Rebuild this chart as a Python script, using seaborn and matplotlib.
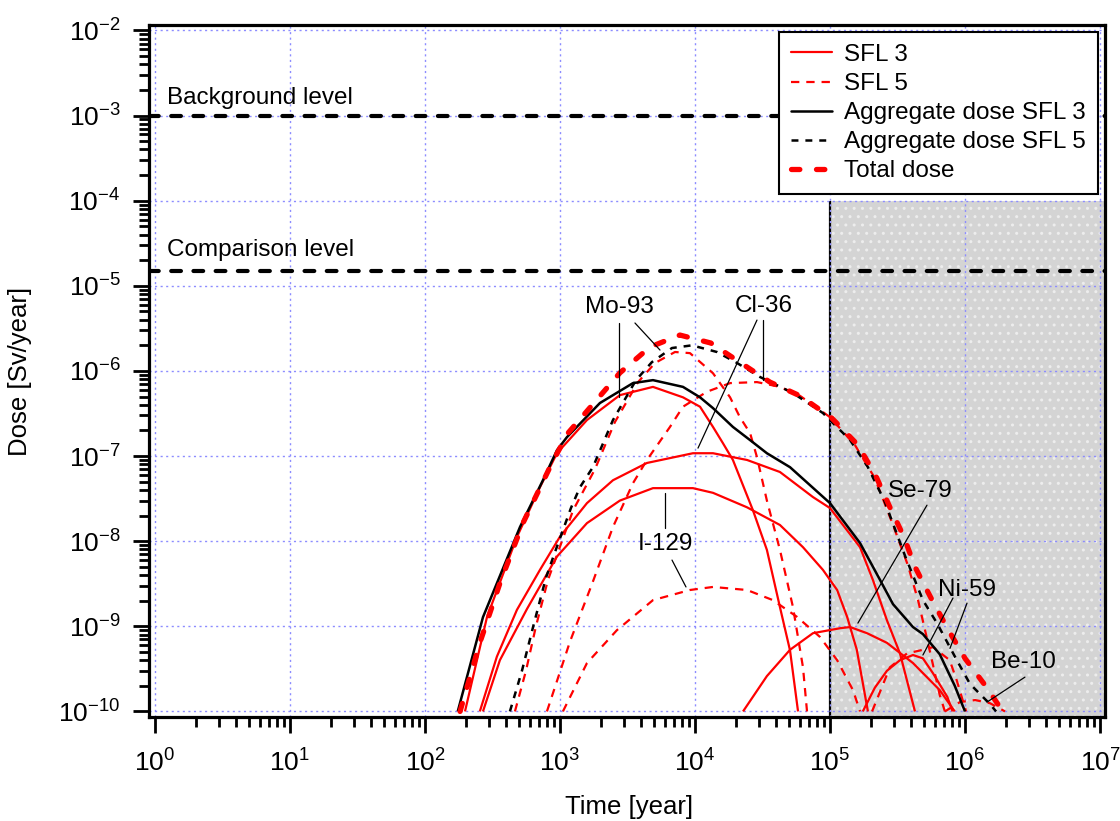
import matplotlib
matplotlib.use("Agg")
import numpy as np
import pandas as pd
import matplotlib.pyplot as plt
import seaborn as sns
from matplotlib.lines import Line2D
from matplotlib.patches import Rectangle
from matplotlib.ticker import FixedLocator, LogFormatterSciNotation, NullFormatter

# ---------------- data ----------------
# Aggregate dose SFL 3 (black solid)
agg3_t = [175, 269, 506, 748, 950, 1127, 1977, 3474, 4886, 8150, 10900, 13600, 19100,
          25600, 34100, 50600, 1.0e5, 1.67e5, 2.35e5, 2.93e5, 4.12e5, 4.88e5, 6.5e5, 8.4e5, 1.0e6]
agg3_d = [1e-10, 1.28e-9, 1.47e-8, 5.2e-8, 1.17e-7, 1.67e-7, 4.2e-7, 7.2e-7, 7.8e-7, 6.5e-7,
          4.9e-7, 3.66e-7, 2.2e-7, 1.54e-7, 1.08e-7, 7.4e-8, 2.8e-8, 9.5e-9, 3.5e-9, 1.82e-9,
          9.8e-10, 8.1e-10, 4.7e-10, 2.0e-10, 1e-10]

# Aggregate dose SFL 5 (black dashed)
agg5_t = [426, 523, 642, 787, 903, 1206, 1406, 1754, 2470, 3657, 4800, 6760, 9500, 14550,
          20500, 30300, 53200, 88700, 1.41e5, 1.91e5, 2.55e5, 3.6e5, 4.88e5, 6.2e5, 8.7e5,
          1.09e6, 1.53e6, 1.7e6]
agg5_d = [1e-10, 3.0e-10, 1.08e-9, 3.7e-9, 6.9e-9, 2.45e-8, 4.3e-8, 7.4e-8, 2.65e-7, 7.8e-7,
          1.27e-6, 1.86e-6, 2.0e-6, 1.67e-6, 1.24e-6, 8.5e-7, 5.5e-7, 3.2e-7, 1.54e-7, 7.4e-8,
          2.9e-8, 6.7e-9, 2.03e-9, 1.09e-9, 4.0e-10, 2.1e-10, 1.22e-10, 1e-10]

# Total dose (thick red dashed)
total_t = [182, 255, 359, 532, 873, 1146, 1786, 2780, 4640, 7740, 13100, 21900, 35900, 60000,
           1.03e5, 1.61e5, 2.19e5, 2.78e5, 3.53e5, 4.26e5, 5.6e5, 7.4e5, 1.0e6, 1.46e6, 1.9e6]
total_d = [1e-10, 6.4e-10, 3.2e-9, 1.63e-8, 8.3e-8, 1.86e-7, 4.2e-7, 9.5e-7, 1.91e-6, 2.64e-6,
           2.13e-6, 1.24e-6, 7.4e-7, 5.1e-7, 2.8e-7, 1.35e-7, 5.8e-8, 2.5e-8, 1.12e-8, 5.0e-9,
           2.15e-9, 9.5e-10, 4.2e-10, 1.88e-10, 1e-10]

# Nuclides, SFL 3 (red solid)
mo93_s3_t = [198, 288, 480, 711, 950, 1585, 2780, 4886, 8150, 10900, 13600, 16100, 19100,
             26900, 34100, 42600, 50600, 58000]
mo93_s3_d = [1e-10, 1.28e-9, 1.12e-8, 4.3e-8, 1.08e-7, 2.65e-7, 5.2e-7, 6.5e-7, 4.9e-7, 3.8e-7,
             2.2e-7, 1.42e-7, 9.0e-8, 2.3e-8, 7.9e-9, 1.68e-9, 5.2e-10, 1e-10]
cl36_s3_t = [255, 341, 480, 711, 1000, 1585, 2470, 4410, 9660, 13600, 24300, 42600, 74800,
             1.0e5, 1.67e5, 2.08e5, 2.64e5, 3.3e5, 4.26e5]
cl36_s3_d = [1e-10, 4.4e-10, 1.56e-9, 4.6e-9, 1.13e-8, 2.8e-8, 5.2e-8, 8.3e-8, 1.08e-7, 1.08e-7,
             9.0e-8, 6.5e-8, 3.3e-8, 2.45e-8, 8.5e-9, 3.5e-9, 1.18e-9, 4.8e-10, 1e-10]
i129_s3_t = [269, 359, 570, 950, 1585, 2780, 4886, 9660, 13600, 24300, 42600, 63100, 88700,
             1.13e5, 1.34e5, 1.58e5, 1.91e5]
i129_s3_d = [1e-10, 4.0e-10, 1.6e-9, 6.6e-9, 1.63e-8, 3.0e-8, 4.2e-8, 4.2e-8, 3.7e-8, 2.5e-8,
             1.55e-8, 8.5e-9, 4.6e-9, 2.67e-9, 1.29e-9, 5.3e-10, 1e-10]
se79_s3_t = [22700, 34100, 50600, 74800, 1.19e5, 1.41e5, 1.88e5, 2.64e5, 4.12e5, 6.5e5, 8.4e5]
se79_s3_d = [1e-10, 2.6e-10, 5.3e-10, 8.3e-10, 9.5e-10, 9.8e-10, 8.3e-10, 6.4e-10, 3.7e-10,
             1.78e-10, 1e-10]
ni59_s3_t = [1.75e5, 2.15e5, 2.64e5, 3.3e5, 4.12e5, 4.88e5, 5.8e5, 7.4e5, 8.1e5]
ni59_s3_d = [1e-10, 1.9e-10, 3.0e-10, 4.0e-10, 4.6e-10, 4.2e-10, 2.8e-10, 1.48e-10, 1e-10]

# Nuclides, SFL 5 (red dashed)
mo93_s5_t = [464, 560, 664, 815, 1250, 1816, 2550, 3790, 5060, 7110, 9180, 13600, 18200,
             21500, 25600, 28800, 34100, 42600, 53200, 63100, 67600]
mo93_s5_d = [1e-10, 3.0e-10, 1.0e-9, 3.5e-9, 2.3e-8, 7.0e-8, 2.5e-7, 7.4e-7, 1.24e-6, 1.67e-6,
             1.62e-6, 9.4e-7, 4.9e-7, 2.87e-7, 1.86e-7, 9.7e-8, 3.0e-8, 7.9e-9, 1.68e-9,
             3.3e-10, 1e-10]
cl36_s5_t = [801, 1186, 1754, 2470, 3474, 4410, 6530, 8150, 12270, 18200, 28800, 42600, 60000,
             1.0e5, 1.53e5, 2.15e5, 2.93e5, 3.78e5, 4.49e5, 5.06e5, 5.8e5, 6.5e5, 7.1e5]
cl36_s5_d = [1e-10, 6.6e-10, 3.35e-9, 1.47e-8, 4.8e-8, 9.0e-8, 2.2e-7, 3.8e-7, 5.7e-7, 7.2e-7,
             7.4e-7, 6.5e-7, 5.1e-7, 2.87e-7, 1.35e-7, 5.5e-8, 1.55e-8, 5.2e-9, 2.03e-9,
             9.0e-10, 3.5e-10, 1.56e-10, 1e-10]
i129_s5_t = [1052, 1585, 2640, 4886, 9180, 13600, 24300, 37800, 57000, 84300, 1.13e5, 1.48e5,
             1.67e5]
i129_s5_d = [1e-10, 3.7e-10, 9.0e-10, 2.03e-9, 2.67e-9, 2.9e-9, 2.67e-9, 2.03e-9, 1.29e-9,
             7.5e-10, 4.0e-10, 1.78e-10, 1e-10]
ni59_s5_t = [2.05e5, 2.78e5, 3.72e5, 4.64e5, 5.8e5, 7.7e5, 8.7e5, 9.7e5, 1.02e6]
ni59_s5_d = [1e-10, 3.3e-10, 4.8e-10, 5.2e-10, 5.7e-10, 4.0e-10, 2.3e-10, 1.29e-10, 1e-10]
be10_s5_t = [7.1e5, 9.2e5, 1.19e6, 1.53e6, 1.98e6]
be10_s5_d = [1e-10, 1.29e-10, 1.36e-10, 1.25e-10, 1e-10]

# Reference levels and regulatory period
background_level = 1e-3
comparison_level = 1.5e-5
shade_x = [1e5, 1.089e7]
shade_top = 1e-4

x_ticks = [1e0, 1e1, 1e2, 1e3, 1e4, 1e5, 1e6, 1e7]
y_ticks = [1e-10, 1e-9, 1e-8, 1e-7, 1e-6, 1e-5, 1e-4, 1e-3, 1e-2]

legend_labels = ["SFL 3", "SFL 5", "Aggregate dose SFL 3", "Aggregate dose SFL 5", "Total dose"]

# ---------------- style ----------------
sns.set_style("white")
plt.rcParams['font.family'] = ['Liberation Sans', 'DejaVu Sans']
plt.rcParams['mathtext.default'] = 'regular'
plt.rcParams['axes.unicode_minus'] = False
plt.rcParams['lines.scale_dashes'] = False
plt.rcParams['text.color'] = 'black'
plt.rcParams['axes.labelcolor'] = 'black'
plt.rcParams['xtick.color'] = 'black'
plt.rcParams['ytick.color'] = 'black'

RED = '#ff0000'
XLIM = (0.904, 1.089e7)
YLIM = (8.6e-11, 1.16e-2)
FS = 17.5

fig = plt.figure(figsize=(11.2, 8.21), dpi=100)
ax = fig.add_axes([149 / 1120, 1 - 717 / 821, (1105 - 149) / 1120, (717 - 25) / 821])
ax.set_xscale('log')
ax.set_yscale('log')
ax.set_xlim(*XLIM)
ax.set_ylim(*YLIM)

# shaded region
ax.add_patch(Rectangle((shade_x[0], YLIM[0]), shade_x[1] - shade_x[0], shade_top - YLIM[0],
                       facecolor='#d4d4d4', edgecolor='#ededed', hatch='..', linewidth=0,
                       zorder=0.2))
ax.vlines(shade_x[0], YLIM[0], shade_top, color='black', linewidth=1.6, zorder=0.3)

ax.set_axisbelow(True)


def draw(t, d, color, lw, dashes=None, cap='butt', z=2):
    df = pd.DataFrame({'t': t, 'd': d})
    sns.lineplot(data=df, x='t', y='d', ax=ax, color=color, linewidth=lw,
                 estimator=None, sort=False, zorder=z)
    ln = ax.get_lines()[-1]
    if dashes is not None:
        ln.set_dashes(dashes)
    ln.set_dash_capstyle(cap)
    ln.set_solid_capstyle('butt')
    ln.set_solid_joinstyle('round')
    return ln


# reference levels
for lvl in (background_level, comparison_level):
    draw([XLIM[0], XLIM[1]], [lvl, lvl], 'black', 3.0, dashes=(7, 9), cap='round', z=2.5)

# SFL 3 nuclides
for t, d in [(mo93_s3_t, mo93_s3_d), (cl36_s3_t, cl36_s3_d), (i129_s3_t, i129_s3_d),
             (se79_s3_t, se79_s3_d), (ni59_s3_t, ni59_s3_d)]:
    draw(t, d, RED, 1.6)
# SFL 5 nuclides
for t, d in [(mo93_s5_t, mo93_s5_d), (cl36_s5_t, cl36_s5_d), (i129_s5_t, i129_s5_d),
             (ni59_s5_t, ni59_s5_d), (be10_s5_t, be10_s5_d)]:
    draw(t, d, RED, 1.6, dashes=(6, 5))

draw(agg3_t, agg3_d, 'black', 1.8, z=3)
draw(agg5_t, agg5_d, 'black', 1.8, dashes=(5, 5), z=3)
draw(total_t, total_d, RED, 3.8, dashes=(6, 12), cap='round', z=4)

ax.set_xlim(*XLIM)
ax.set_ylim(*YLIM)

# annotations
txt_kw = dict(fontsize=FS, ha='center', va='center', zorder=6, color='black')
ann_kw = dict(color='black', linewidth=0.9, zorder=6)

ax.text(1.23, 1.6e-3, 'Background level', fontsize=FS, ha='left', va='center', zorder=6)
ax.text(1.23, 2.64e-5, 'Comparison level', fontsize=FS, ha='left', va='center', zorder=6)

ax.text(2780, 5.6e-6, 'Mo-93', **txt_kw)
ax.plot([2735, 2735], [3.66e-6, 4.9e-7], **ann_kw)
ax.plot([3594, 5508], [3.66e-6, 1.76e-6], **ann_kw)

ax.text(32400, 5.8e-6, 'Cl-36', **txt_kw)
ax.plot([28800, 10530], [3.96e-6, 1.24e-7], **ann_kw)
ax.plot([31900, 31900], [3.96e-6, 7.8e-7], **ann_kw)

ax.text(6000, 9.2e-9, 'I-129', **txt_kw)
ax.plot([6000, 6000], [3.67e-8, 1.43e-8], **ann_kw)
ax.plot([6760, 8580], [6.0e-9, 2.9e-9], **ann_kw)

ax.text(4.64e5, 3.9e-8, 'Se-79', **txt_kw)
ax.plot([5.23e5, 1.61e5], [2.65e-8, 1.09e-9], **ann_kw)

ax.text(1.035e6, 2.67e-9, 'Ni-59', **txt_kw)
ax.plot([8.15e5, 4.88e5], [2.15e-9, 4.6e-10], **ann_kw)
ax.plot([1.035e6, 7.74e5], [1.87e-9, 5.5e-10], **ann_kw)

ax.text(2.69e6, 3.8e-10, 'Be-10', **txt_kw)
ax.plot([2.78e6, 1.46e6], [2.53e-10, 1.29e-10], **ann_kw)

# ticks
x_minor = [m * d for d in x_ticks[:-1] for m in range(2, 10)]
y_minor = [m * d for d in y_ticks[:-1] for m in range(2, 10)]
ax.xaxis.set_major_locator(FixedLocator(x_ticks))
ax.yaxis.set_major_locator(FixedLocator(y_ticks))
ax.xaxis.set_minor_locator(FixedLocator(x_minor))
ax.yaxis.set_minor_locator(FixedLocator(y_minor))
ax.xaxis.set_major_formatter(LogFormatterSciNotation())
ax.yaxis.set_major_formatter(LogFormatterSciNotation())
ax.xaxis.set_minor_formatter(NullFormatter())
ax.yaxis.set_minor_formatter(NullFormatter())
ax.grid(True, which='major', color='#8c8cff', linestyle=(0, (1.5, 2.5)), linewidth=1.0)
ax.grid(False, which='minor')
ax.tick_params(which='major', direction='out', length=11.5, width=2.0, labelsize=19,
               color='black', labelcolor='black')
ax.tick_params(which='minor', direction='out', length=7, width=2.0, color='black')
ax.tick_params(axis='x', which='major', pad=12)
ax.tick_params(axis='y', which='major', pad=9)
ax.tick_params(left=True, bottom=True, which='both')

for s in ax.spines.values():
    s.set_linewidth(2.3)
    s.set_color('black')
    s.set_visible(True)

ax.set_xlabel('Time [year]', fontsize=18.5, color='black')
ax.set_ylabel('Dose [Sv/year]', fontsize=18.5, color='black')
ax.xaxis.set_label_coords(0.502, -0.113)
ax.yaxis.set_label_coords(-0.122, 0.5)

# legend
handles = [
    Line2D([], [], color=RED, lw=1.6),
    Line2D([], [], color=RED, lw=1.6, dashes=(6, 5)),
    Line2D([], [], color='black', lw=1.8),
    Line2D([], [], color='black', lw=1.8, dashes=(5, 5)),
    Line2D([], [], color=RED, lw=3.8, dashes=(6, 12), dash_capstyle='round'),
]
leg = ax.legend(handles, legend_labels, loc='upper right', bbox_to_anchor=(1, 1),
                borderaxespad=0.28, frameon=True, fancybox=False, edgecolor='black',
                fontsize=FS, handlelength=1.7, handletextpad=0.5, labelspacing=0.29,
                borderpad=0.5, framealpha=1)
leg.get_frame().set_linewidth(1.5)
leg.set_zorder(10)
for txt in leg.get_texts():
    txt.set_color('black')

fig.savefig('out.png', dpi=100)
